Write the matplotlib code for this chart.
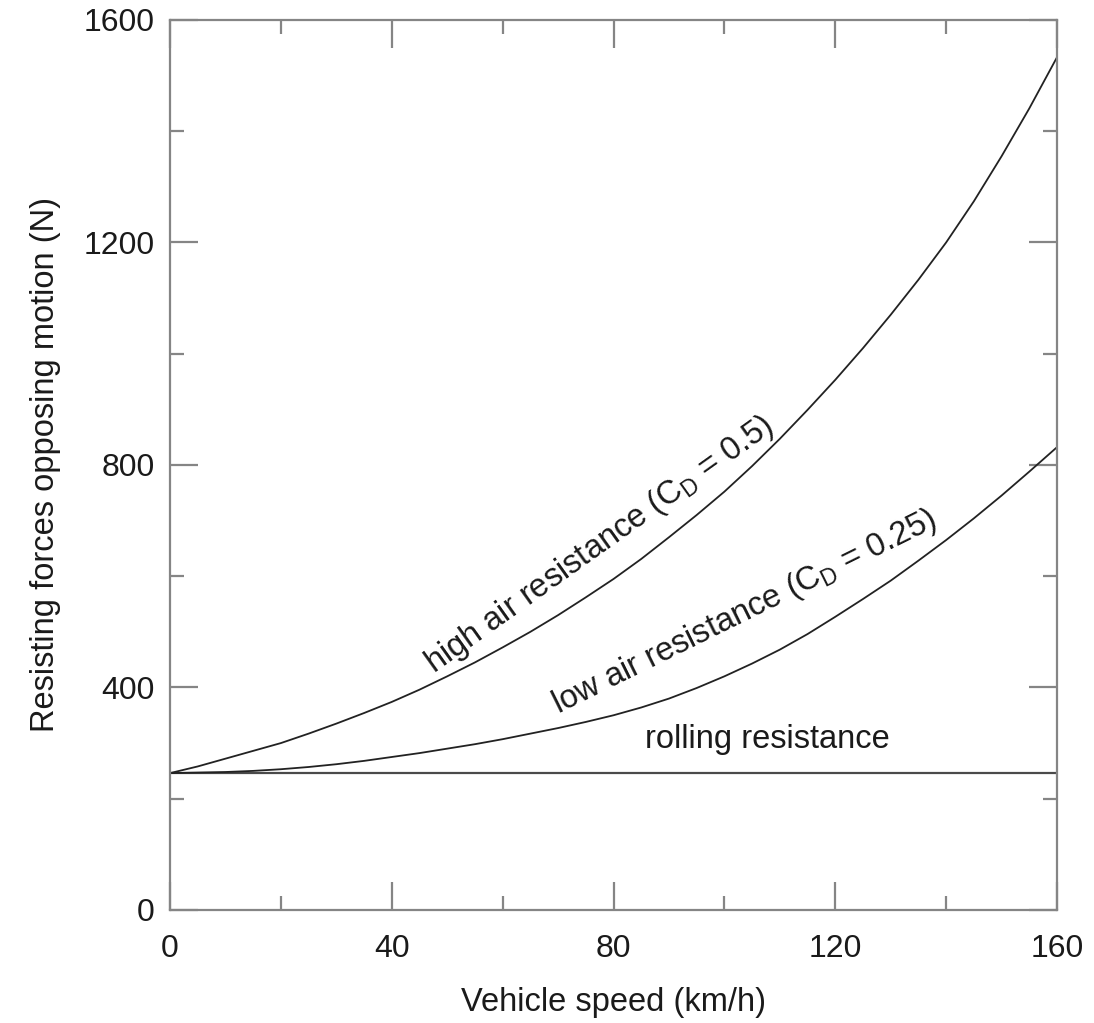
import matplotlib
matplotlib.use("Agg")
import matplotlib.pyplot as plt

plt.rcParams['font.family'] = ['Liberation Sans', 'DejaVu Sans']
plt.rcParams['mathtext.fontset'] = 'custom'
plt.rcParams['mathtext.rm'] = 'Liberation Sans'
plt.rcParams['mathtext.it'] = 'Liberation Sans'

# values (every 5 km/h)
speed = [0, 5, 10, 15, 20, 25, 30, 35, 40, 45, 50, 55, 60, 65, 70, 75, 80,
         85, 90, 95, 100, 105, 110, 115, 120, 125, 130, 135, 140, 145, 150, 155, 160]
high_air = [246, 258, 272, 286, 300, 317, 335, 354, 374, 396, 420, 445, 472, 500, 530, 562, 595,
            631, 670, 710, 752, 798, 847, 899, 953, 1010, 1070, 1133, 1200, 1274, 1355, 1441, 1533]
low_air = [246, 247, 248, 250, 253, 257, 262, 268, 275, 282, 290, 298, 307, 317, 327, 338, 350,
           364, 380, 399, 420, 443, 468, 496, 527, 559, 592, 628, 665, 704, 745, 788, 832]
rolling = [246] * len(speed)

x_ticks = [0, 40, 80, 120, 160]
y_ticks = [0, 400, 800, 1200, 1600]

spine_col = '#858585'
txt_col = '#1a1a1a'

fig = plt.figure(figsize=(10.94, 10.23), dpi=100)
ax = fig.add_axes([0.1554, 0.1105, 0.8108, 0.870])

ax.plot(speed, rolling, color='#4a4a4a', lw=1.6)
ax.plot(speed, low_air, color='#222222', lw=1.3)
ax.plot(speed, high_air, color='#222222', lw=1.3)

ax.set_xlim(0, 160)
ax.set_ylim(0, 1600)
ax.set_xticks(x_ticks)
ax.set_yticks(y_ticks)
ax.set_xticks([20, 60, 100, 140], minor=True)
ax.set_yticks([200, 600, 1000, 1400], minor=True)

for s in ax.spines.values():
    s.set_color(spine_col)
    s.set_linewidth(1.6)

ax.tick_params(which='both', direction='in', top=True, right=True,
               color=spine_col, width=1.6, labelsize=23, labelcolor=txt_col)
ax.tick_params(which='major', length=20, pad=11)
ax.tick_params(axis='x', which='major', pad=17)
ax.tick_params(which='minor', length=10)

ax.set_xlabel('Vehicle speed (km/h)', fontsize=23.5, color=txt_col, labelpad=17)
ax.set_ylabel('Resisting forces opposing motion (N)', fontsize=23.5, color=txt_col, labelpad=16)

ax.text(77.4, 656, r'high air resistance (C$_\mathrm{D}$ = 0.5)', fontsize=23.5,
        color=txt_col, rotation=35.5, ha='center', va='center', rotation_mode='anchor')
ax.text(103.7, 536, r'low air resistance (C$_\mathrm{D}$ = 0.25)', fontsize=23.5,
        color=txt_col, rotation=26.3, ha='center', va='center', rotation_mode='anchor')
ax.text(107.7, 306, 'rolling resistance', fontsize=23.5, color=txt_col,
        ha='center', va='center')

fig.savefig('out.png', dpi=100)
